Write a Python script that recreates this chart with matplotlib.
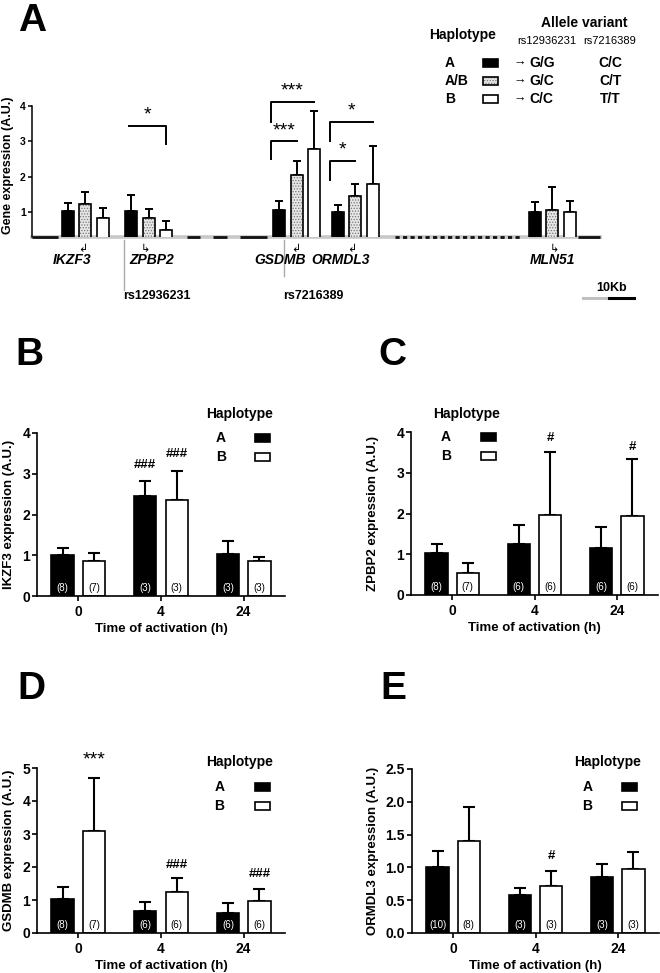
import matplotlib
matplotlib.use("Agg")
import matplotlib.pyplot as plt
from matplotlib.patches import Rectangle
from matplotlib.lines import Line2D

plt.rcParams["font.family"] = ["Liberation Sans", "DejaVu Sans"]
plt.rcParams["font.weight"] = "bold"
plt.rcParams["axes.labelweight"] = "bold"
plt.rcParams["hatch.linewidth"] = 0.6

# ---- panel A data (gene expression by haplotype) ----
genes = ["IKZF3", "ZPBP2", "GSDMB", "ORMDL3", "MLN51"]
a_mean_A = [1.02, 1.03, 1.05, 1.00, 1.00]
a_sem_A = [0.23, 0.44, 0.27, 0.20, 0.27]
a_mean_AB = [1.22, 0.82, 2.06, 1.45, 1.06]
a_sem_AB = [0.35, 0.26, 0.39, 0.35, 0.64]
a_mean_B = [0.83, 0.50, 2.77, 1.80, 1.01]
a_sem_B = [0.27, 0.25, 1.10, 1.07, 0.29]
# (gene, from group, to group, bracket level, drop end, side of drop, label)
a_brackets = [
    (1, 0, 2, 3.44, 2.93, "right", "*"),
    (2, 0, 1, 3.00, 2.50, "left", "***"),
    (2, 0, 2, 4.12, 3.56, "left", "***"),
    (3, 0, 1, 2.45, 1.90, "left", "*"),
    (3, 0, 2, 3.56, 3.00, "left", "*"),
]
haplo_labels = ["A", "A/B", "B"]
allele_rs1 = ["G/G", "G/C", "C/C"]
allele_rs2 = ["C/C", "C/T", "T/T"]

# ---- panels B-E data (time course, haplotype A vs B) ----
times = ["0", "4", "24"]

b_A = [1.00, 2.45, 1.02]
b_A_sem = [0.18, 0.37, 0.34]
b_B = [0.85, 2.35, 0.85]
b_B_sem = [0.20, 0.72, 0.10]
b_nA = [8, 3, 3]
b_nB = [7, 3, 3]
b_marks = [(1, "A", 3.22, "###"), (1, "B", 3.49, "###")]

c_A = [1.03, 1.25, 1.15]
c_A_sem = [0.22, 0.48, 0.53]
c_B = [0.55, 1.97, 1.95]
c_B_sem = [0.23, 1.55, 1.38]
c_nA = [8, 6, 6]
c_nB = [7, 6, 6]
c_marks = [(1, "B", 3.85, "#"), (2, "B", 3.63, "#")]

d_A = [1.04, 0.67, 0.60]
d_A_sem = [0.34, 0.26, 0.31]
d_B = [3.09, 1.25, 0.96]
d_B_sem = [1.61, 0.42, 0.37]
d_nA = [8, 6, 6]
d_nB = [7, 6, 6]
d_marks = [(0, "B", 5.24, "***"), (1, "B", 2.06, "###"), (2, "B", 1.80, "###")]

e_A = [1.00, 0.58, 0.86]
e_A_sem = [0.25, 0.10, 0.19]
e_B = [1.40, 0.71, 0.98]
e_B_sem = [0.52, 0.24, 0.26]
e_nA = [10, 3, 3]
e_nB = [8, 3, 3]
e_marks = [(1, "B", 1.17, "#")]

W, H = 660, 973
fig = plt.figure(figsize=(W / 100, H / 100), dpi=100)


def box(l, t, r, b):
    return [l / W, 1 - b / H, (r - l) / W, (b - t) / H]


def ftext(x, y, s, **kw):
    return fig.text(x / W, 1 - y / H, s, **kw)


def fline(xs, ys, **kw):
    fig.add_artist(Line2D([x / W for x in xs], [1 - y / H for y in ys], **kw))


def fsquare(cx, cy, style, w=15, h=8):
    xy = ((cx - w / 2) / W, 1 - (cy + h / 2) / H)
    if style == "dot":
        fig.add_artist(Rectangle(xy, w / W, h / H, transform=fig.transFigure,
                                 facecolor="#e6e6e6", hatch="......", edgecolor="#777777", linewidth=0))
        fig.add_artist(Rectangle(xy, w / W, h / H, transform=fig.transFigure,
                                 fill=False, edgecolor="black", linewidth=1.2))
    else:
        fig.add_artist(Rectangle(xy, w / W, h / H, transform=fig.transFigure,
                                 facecolor="black" if style == "black" else "white",
                                 edgecolor="black", linewidth=1.2))


def draw_bars(ax, x, h, style, width):
    if style == "dot":
        ax.bar(x, h, width, color="#e6e6e6", hatch="......", edgecolor="#777777", linewidth=0, zorder=2)
        ax.bar(x, h, width, fill=False, edgecolor="black", linewidth=1.2, zorder=3)
    else:
        ax.bar(x, h, width, color="black" if style == "black" else "white",
               edgecolor="black", linewidth=1.2, zorder=2)


# ================= Panel A =================
ftext(18, 21, "A", fontsize=28, va="center")
ax = fig.add_axes(box(32, 106, 640, 237))
base = 0.29
ax.set_xlim(32, 640)
ax.set_ylim(base, 4.0)
gene_x = [85, 148.5, 296.5, 355, 552]
pitch, bw = 17.5, 12
styles = ["black", "dot", "white"]
means = [a_mean_A, a_mean_AB, a_mean_B]
sems = [a_sem_A, a_sem_AB, a_sem_B]

# genomic track under the bars
ax.plot([32, 600], [base, base], color="#c8c8c8", lw=2.6, clip_on=False, zorder=1)
for x0, x1 in [(32, 58), (187, 200), (213, 227), (240, 267), (578, 600)]:
    ax.plot([x0, x1], [base, base], color="#111111", lw=2.0, clip_on=False, zorder=1, solid_capstyle="butt")
ax.plot([395, 522], [base, base], color="#111111", lw=2.0, ls=(0, (1.5, 1.2)), clip_on=False, zorder=1)

for k in range(3):
    xs = [g + (k - 1) * pitch for g in gene_x]
    draw_bars(ax, xs, means[k], styles[k], bw)
    ax.errorbar(xs, means[k], yerr=[[0] * len(genes), sems[k]], fmt="none", ecolor="black",
                elinewidth=1.4, capsize=3, capthick=1.4, zorder=1)

for gi, g0, g1, lvl, drop, side, lab in a_brackets:
    x0 = gene_x[gi] + (g0 - 1) * pitch
    x1 = gene_x[gi] + (g1 - 1) * pitch
    if side == "left":
        x0 -= 8
        ax.plot([x0, x0, x1], [drop, lvl, lvl], color="black", lw=1.4, clip_on=False)
    else:
        x0 -= 2
        ax.plot([x0, x1, x1], [lvl, lvl, drop], color="black", lw=1.4, clip_on=False)
    ax.text((x0 + x1) / 2, lvl + 0.06, lab, ha="center", va="bottom", fontsize=14,
            fontweight="normal", clip_on=False)

ax.set_yticks([1, 2, 3, 4])
ax.set_xticks([])
for s in ["top", "right", "bottom"]:
    ax.spines[s].set_visible(False)
ax.spines["left"].set_linewidth(1.1)
ax.tick_params(axis="y", length=3, width=1.1, pad=1.5, labelsize=7.5)
ax.set_ylabel("Gene expression (A.U.)", fontsize=9)
ax.yaxis.set_label_coords((14 - 32) / 608, 0.55)

# gene names and transcription arrows
gene_label_x = [72, 152, 280, 341, 552]
arrow_x = [83, 145, 296, 352, 554]
arrow_dir = ["\u21b2", "\u21b3", "\u21b2", "\u21b2", "\u21b3"]
for g, lx, axx, ad in zip(genes, gene_label_x, arrow_x, arrow_dir):
    ftext(lx, 260, g, fontsize=10, style="italic", ha="center", va="center")
    ftext(axx, 249, ad, fontsize=8, family="DejaVu Sans", fontweight="normal", ha="center", va="center")
fline([124, 124], [240, 290], color="#aaaaaa", lw=1.0)
fline([284, 284], [240, 276], color="#aaaaaa", lw=1.0)
ftext(123, 296, "rs12936231", fontsize=9, ha="left", va="center")
ftext(283, 296, "rs7216389", fontsize=9, ha="left", va="center")
ftext(612, 288, "10Kb", fontsize=9, ha="center", va="center")
fline([583, 609], [298, 298], color="#c0c0c0", lw=2.2)
fline([609, 634], [298, 298], color="black", lw=2.2)

# allele legend
ftext(463, 35, "Haplotype", fontsize=10, ha="center", va="center")
ftext(584, 23, "Allele variant", fontsize=10, ha="center", va="center")
ftext(547, 41, "rs12936231", fontsize=8, fontweight="normal", ha="center", va="center")
ftext(610, 41, "rs7216389", fontsize=8, fontweight="normal", ha="center", va="center")
for r, (hl, a1, a2) in enumerate(zip(haplo_labels, allele_rs1, allele_rs2)):
    yy = 63 + r * 18
    ftext(445, yy, hl, fontsize=10, ha="left", va="center")
    fsquare(490, yy, styles[r])
    ftext(513, yy, "\u2192", fontsize=9, ha="left", va="center")
    ftext(529, yy, a1, fontsize=10, ha="left", va="center")
    ftext(610, yy, a2, fontsize=10, ha="center", va="center")

# ================= Panels B-E =================
panels = [
    ("B", (37, 433, 285, 596), (0, 4), [0, 1, 2, 3, 4], "%d", "IKZF3 expression (A.U.)",
     b_A, b_A_sem, b_B, b_B_sem, b_nA, b_nB, b_marks, (15, 355), (240, 414, 221, 262.5, 438)),
    ("C", (411, 432, 658, 595), (0, 4), [0, 1, 2, 3, 4], "%d", "ZPBP2 expression (A.U.)",
     c_A, c_A_sem, c_B, c_B_sem, c_nA, c_nB, c_marks, (378, 355), (467, 414, 446, 488.5, 437)),
    ("D", (37, 768, 285, 933), (0, 5), [0, 1, 2, 3, 4, 5], "%d", "GSDMB expression (A.U.)",
     d_A, d_A_sem, d_B, d_B_sem, d_nA, d_nB, d_marks, (17, 689), (240, 762, 219.5, 262.5, 787)),
    ("E", (412, 769, 659, 933), (0, 2.5), [0, 0.5, 1.0, 1.5, 2.0, 2.5], "%.1f", "ORMDL3 expression (A.U.)",
     e_A, e_A_sem, e_B, e_B_sem, e_nA, e_nB, e_marks, (380, 689), (608, 762, 587.5, 629.5, 787)),
]

off, bw2 = 0.19, 0.27
for (letter, rect, ylim, yt, fmt, ylab, mA, sA, mB, sB, nA, nB, marks, lpos, leg) in panels:
    ftext(lpos[0], lpos[1], letter, fontsize=28, va="center")
    ax = fig.add_axes(box(*rect))
    ax.set_xlim(-0.5, 2.5)
    ax.set_ylim(*ylim)
    xA = [i - off for i in range(len(times))]
    xB = [i + off for i in range(len(times))]
    draw_bars(ax, xA, mA, "black", bw2)
    draw_bars(ax, xB, mB, "white", bw2)
    for xs, m, s in [(xA, mA, sA), (xB, mB, sB)]:
        ax.errorbar(xs, m, yerr=[[0] * len(m), s], fmt="none", ecolor="black",
                    elinewidth=1.5, capsize=4.5, capthick=1.5, zorder=1)
    for xs, ns, col in [(xA, nA, "white"), (xB, nB, "black")]:
        for x, n in zip(xs, ns):
            ax.text(x, 0.05, "(%d)" % n, transform=ax.get_xaxis_transform(), ha="center",
                    va="center", fontsize=7, fontweight="normal", color=col, zorder=4)
    for gi, hp, yv, txt in marks:
        xm = xA[gi] if hp == "A" else xB[gi]
        ax.text(xm, yv, txt, ha="center", va="center", fontsize=14 if "*" in txt else 9.5,
                fontweight="normal" if "*" in txt else "bold", clip_on=False)
    ax.set_xticks(range(len(times)))
    ax.set_xticklabels(times)
    ax.set_yticks(yt)
    ax.yaxis.set_major_formatter(matplotlib.ticker.FormatStrFormatter(fmt))
    for s in ["top", "right"]:
        ax.spines[s].set_visible(False)
    for s in ["left", "bottom"]:
        ax.spines[s].set_linewidth(1.2)
    ax.tick_params(length=3.5, width=1.2, labelsize=10)
    ax.tick_params(axis="y", pad=1.5)
    ax.tick_params(axis="x", pad=3)
    ax.set_xlabel("Time of activation (h)", fontsize=9.5, labelpad=3)
    ax.set_ylabel(ylab, fontsize=9.5)
    pw = rect[2] - rect[0]
    right_edge = 15 if rect[0] < 300 else 379
    ax.yaxis.set_label_coords((right_edge - rect[0]) / pw, 0.5)
    # haplotype legend
    tx, ty, lx, sx, ry = leg
    ftext(tx, ty, "Haplotype", fontsize=10, ha="center", va="center")
    for r, (hl, st) in enumerate(zip(["A", "B"], ["black", "white"])):
        ftext(lx, ry + r * 19, hl, fontsize=10, ha="center", va="center")
        fsquare(sx, ry + r * 19, st)

fig.savefig("out.png", dpi=100)
